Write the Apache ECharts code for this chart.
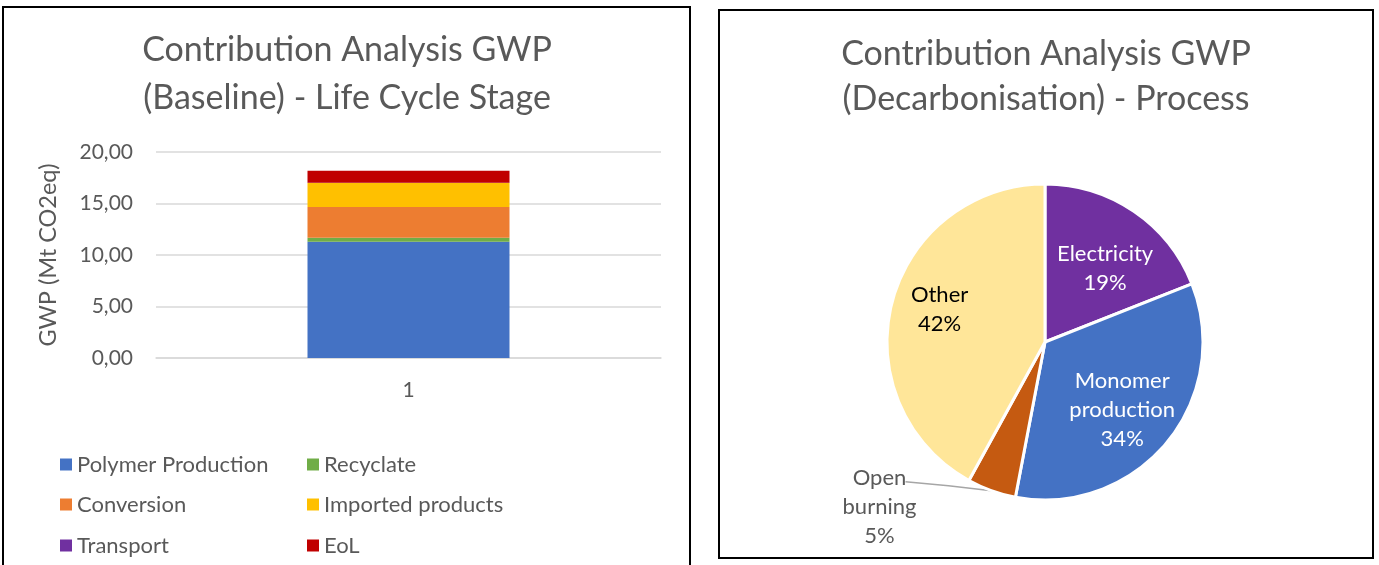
<!DOCTYPE html>
<html>
<head>
<meta charset="utf-8">
<script src="https://cdn.jsdelivr.net/npm/echarts@6/dist/echarts.min.js"></script>
<style>
  html, body { margin: 0; padding: 0; background: #ffffff; }
  #chart { width: 1379px; height: 565px; }
</style>
</head>
<body>
<div id="chart"></div>
<script>
// Life cycle stages, baseline scenario (Mt CO2eq)
const stageNames = ['Polymer Production', 'Recyclate', 'Conversion', 'Imported products', 'Transport', 'EoL'];
const stageValues = [11.29, 0.39, 2.98, 2.32, 0.03, 1.16];
const stageColors = ['#4472C4', '#70AD47', '#ED7D31', '#FFC000', '#7030A0', '#C00000'];
const barCategories = ['1'];
const yMin = 0, yMax = 20, yStep = 5;

// Process contributions, decarbonisation scenario (%)
const processNames = ['Electricity', 'Monomer production', 'Open burning', 'Other'];
const processLabels = ['Electricity', 'Monomer\nproduction', 'Open\nburning', 'Other'];
const processShares = [19, 34, 5, 42];
const processColors = ['#7030A0', '#4472C4', '#C55A11', '#FFE699'];
const processLabelColors = ['#ffffff', '#ffffff', '#595959', '#000000'];

const FONT = 'Lato, "Open Sans", sans-serif';
const GREY = '#595959';

const chart = echarts.init(document.getElementById('chart'), null, { renderer: 'canvas' });

const barSeries = stageNames.map((name, i) => ({
  name: name,
  type: 'bar',
  stack: 'gwp',
  barWidth: '40%',
  itemStyle: { color: stageColors[i] },
  emphasis: { disabled: true },
  data: [stageValues[i]]
}));

// Two-column legend: one legend box per entry so the columns line up
const legendCols = [55, 302];
const legendRows = [448, 488, 529];
const legends = stageNames.map((name, i) => ({
  data: [name],
  left: legendCols[i % 2],
  top: legendRows[Math.floor(i / 2)],
  icon: 'rect', itemWidth: 12, itemHeight: 12,
  selectedMode: false,
  textStyle: { fontFamily: FONT, fontSize: 22, color: GREY, lineHeight: 23 }
}));

// Nudges for the inside pie labels, relative to the default mid-radius spot
const insideNudge = [[14, -6], [14, 16], null, [-26, -12]];

const option = {
  animation: false,
  textStyle: { fontFamily: FONT },
  graphic: [
    { type: 'rect', z: -1, silent: true, shape: { x: 3, y: 7, width: 687, height: 580 },
      style: { fill: '#ffffff', stroke: '#000000', lineWidth: 2 } },
    { type: 'rect', z: -1, silent: true, shape: { x: 719, y: 10, width: 654, height: 548 },
      style: { fill: '#ffffff', stroke: '#000000', lineWidth: 2 } }
  ],
  title: [
    {
      text: 'Contribution Analysis GWP\n(Baseline) - Life Cycle Stage',
      left: 342, top: 21, textAlign: 'center',
      textStyle: { fontFamily: FONT, fontSize: 34, fontWeight: 'normal', color: GREY, lineHeight: 48 }
    },
    {
      text: 'Contribution Analysis GWP\n(Decarbonisation) - Process',
      left: 1041, top: 27, textAlign: 'center',
      textStyle: { fontFamily: FONT, fontSize: 34, fontWeight: 'normal', color: GREY, lineHeight: 45 }
    }
  ],
  legend: legends,
  grid: { left: 156, right: 718, top: 152, bottom: 207, containLabel: false },
  xAxis: {
    type: 'category',
    data: barCategories,
    axisTick: { show: false },
    axisLine: { lineStyle: { color: '#D9D9D9', width: 1.5 } },
    axisLabel: { color: GREY, fontSize: 21, margin: 22, fontFamily: FONT }
  },
  yAxis: {
    type: 'value',
    min: yMin, max: yMax, interval: yStep,
    name: 'GWP (Mt CO2eq)',
    nameLocation: 'middle',
    nameGap: 96,
    nameTextStyle: { color: GREY, fontSize: 23.5, fontFamily: FONT },
    axisLine: { show: false },
    axisTick: { show: false },
    splitLine: { lineStyle: { color: '#D9D9D9', width: 1.5 } },
    axisLabel: {
      color: GREY, fontSize: 21, margin: 23, fontFamily: FONT,
      formatter: v => v.toFixed(2).replace('.', ',')
    }
  },
  series: barSeries.concat([
    {
      name: 'process',
      type: 'pie',
      center: [1045, 342],
      radius: 158,
      startAngle: 90,
      clockwise: true,
      emphasis: { disabled: true },
      itemStyle: { borderColor: '#ffffff', borderWidth: 3 },
      data: processNames.map((n, i) => ({
        name: n,
        value: processShares[i],
        itemStyle: { color: processColors[i] },
        label: i === 2
          ? { position: 'outside', color: processLabelColors[i] }
          : { position: 'inside', color: processLabelColors[i] },
        labelLine: i === 2
          ? { show: true, length: 1, length2: 80, lineStyle: { color: '#A6A6A6', width: 1.5 } }
          : { show: false }
      })),
      label: {
        fontFamily: FONT, fontSize: 22, lineHeight: 29, align: 'center',
        formatter: p => processLabels[p.dataIndex] + '\n' + Math.round(p.percent) + '%'
      },
      labelLayout: function (p) {
        const i = p.dataIndex;
        if (i === 2) {
          const start = p.labelLinePoints ? p.labelLinePoints[0] : null;
          if (!start) return {};
          const end = [start[0] - 86, start[1] - 9];
          return {
            x: end[0] - 26, y: end[1] + 25,
            align: 'center', verticalAlign: 'middle',
            labelLinePoints: [start, [start[0] - 43, start[1] - 5], end]
          };
        }
        const n = insideNudge[i];
        return { dx: n[0], dy: n[1] };
      }
    }
  ])
};

chart.setOption(option);
</script>
</body>
</html>
